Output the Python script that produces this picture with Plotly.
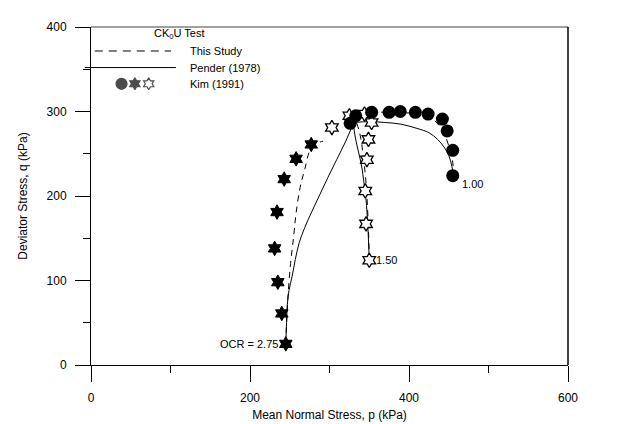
import plotly.graph_objects as go

# ---------------- data ----------------
# Kim (1991) measured points
kim100_p = [326, 333, 353, 375, 389, 408, 424, 442, 448, 455, 455]
kim100_q = [286, 295, 299, 299, 300, 299, 297, 291, 277, 254, 224]

kim275_p = [245, 240, 235, 231, 234, 243, 258, 277]
kim275_q = [25, 61, 98, 138, 181, 220, 244, 261]

kim150_p = [350, 346, 345, 347, 349, 353, 344, 325, 303]
kim150_q = [124, 167, 206, 243, 267, 287, 297, 295, 281]

# Pender (1978) predictions (solid)
pen275_p = [245, 246, 247, 249, 253, 257, 262, 269, 278, 288, 298, 309, 320, 330]
pen275_q = [25, 50, 72, 88, 105, 125, 145, 163, 182, 202, 222, 243, 264, 286]

pen150_p = [350, 348, 346, 343, 341, 338, 335, 332, 330]
pen150_q = [124, 168, 195, 218, 232, 246, 258, 272, 286]

pen100_p = [456, 454, 450, 444, 436, 425, 410, 390, 370, 350, 330]
pen100_q = [222, 235, 248, 258, 267, 275, 280, 285, 287, 288, 287]

# This study (dashed)
st275_p = [245, 246, 248, 251, 255, 258, 263, 269, 276, 284, 292]
st275_q = [25, 50, 84, 120, 153, 180, 210, 232, 255, 262, 265]

st150_p = [350, 349, 347, 345, 342, 340, 337, 333]
st150_q = [124, 160, 200, 226, 250, 265, 278, 290]

st100_p = [456, 455, 451, 446, 439, 428, 410, 385, 360, 340]
st100_q = [222, 240, 256, 270, 282, 292, 297, 299, 299, 296]

# OCR labels
ocr_labels = ["OCR = 2.75", "1.50", "1.00"]
ocr_p = [245, 350, 456]
ocr_q = [25, 124, 222]

x_ticks = [0, 200, 400, 600]
y_ticks = [0, 100, 200, 300, 400]

# ---------------- figure ----------------
FONT = "Liberation Sans, Arial, sans-serif"
fig = go.Figure()

def line(px, py, dash):
    fig.add_trace(go.Scatter(x=px, y=py, mode="lines",
                             line=dict(color="black", width=1, dash=dash),
                             line_shape="spline", showlegend=False, hoverinfo="skip"))

for px, py in [(st275_p, st275_q), (st150_p, st150_q), (st100_p, st100_q)]:
    line(px, py, "6px,5px")
for px, py in [(pen275_p, pen275_q), (pen150_p, pen150_q), (pen100_p, pen100_q)]:
    line(px, py, "solid")

fig.add_trace(go.Scatter(x=kim275_p, y=kim275_q, mode="markers",
                         marker=dict(symbol="hexagram", size=11, color="black",
                                     line=dict(color="black", width=1)),
                         showlegend=False, cliponaxis=False))
fig.add_trace(go.Scatter(x=kim150_p, y=kim150_q, mode="markers",
                         marker=dict(symbol="hexagram", size=11, color="white",
                                     line=dict(color="black", width=1.3)),
                         showlegend=False, cliponaxis=False))
fig.add_trace(go.Scatter(x=kim100_p, y=kim100_q, mode="markers",
                         marker=dict(symbol="circle", size=13, color="black",
                                     line=dict(width=0)),
                         showlegend=False, cliponaxis=False))

# legend glyphs on an overlay axis covering the plot area (paper fractions)
fig.add_trace(go.Scatter(x=[0.064, 0.092, 0.121], y=[0.832, 0.832, 0.832],
                         xaxis="x2", yaxis="y2", mode="markers",
                         marker=dict(symbol=["circle", "hexagram", "hexagram"],
                                     size=[11, 9, 9],
                                     color=["black", "black", "white"],
                                     line=dict(color="black", width=1.2)),
                         showlegend=False, cliponaxis=False, hoverinfo="skip"))

shapes = [
    dict(type="line", xref="paper", yref="paper", x0=0.008, x1=0.168, y0=0.929, y1=0.929,
         line=dict(color="black", width=1, dash="8px,6px")),
    dict(type="line", xref="paper", yref="paper", x0=-0.013, x1=0.178, y0=0.88, y1=0.88,
         line=dict(color="black", width=1)),
    dict(type="line", xref="paper", yref="paper", x0=0, x1=1, y0=1, y1=1,
         line=dict(color="#808080", width=1.5)),
    dict(type="line", xref="paper", yref="paper", x0=1, x1=1, y0=0, y1=1,
         line=dict(color="black", width=1.5)),
]

annotations = [
    dict(xref="paper", yref="paper", x=0.185, y=0.98, text="CK<sub>0</sub>U Test",
         showarrow=False, xanchor="center", yanchor="middle", font=dict(size=11)),
    dict(xref="paper", yref="paper", x=0.203, y=0.929, text="This Study",
         showarrow=False, xanchor="left", yanchor="middle", font=dict(size=11)),
    dict(xref="paper", yref="paper", x=0.203, y=0.88, text="Pender (1978)",
         showarrow=False, xanchor="left", yanchor="middle", font=dict(size=11)),
    dict(xref="paper", yref="paper", x=0.203, y=0.832, text="Kim (1991)",
         showarrow=False, xanchor="left", yanchor="middle", font=dict(size=11)),
]
for t, p, q in zip(ocr_labels, ocr_p, ocr_q):
    if t.startswith("OCR"):
        annotations.append(dict(x=p, y=q, text=t, showarrow=False, xanchor="right",
                                yanchor="middle", xshift=-6, font=dict(size=11)))
    elif t == "1.00":
        annotations.append(dict(x=p, y=q, text=t, showarrow=False, xanchor="left",
                                yanchor="middle", xshift=6, yshift=-7, font=dict(size=11)))
    else:
        annotations.append(dict(x=p, y=q, text=t, showarrow=False, xanchor="left",
                                yanchor="middle", xshift=5, font=dict(size=11)))

fig.update_layout(
    width=631, height=424,
    margin=dict(l=83, r=71, t=13, b=65),
    paper_bgcolor="white", plot_bgcolor="white",
    font=dict(family=FONT, size=12, color="black"),
    shapes=shapes, annotations=annotations,
    xaxis=dict(range=[0, 600], tickvals=x_ticks, ticks="outside", ticklen=16,
               tickcolor="black", tickwidth=1, showline=True, linecolor="black",
               linewidth=1, showgrid=False, zeroline=False,
               minor=dict(dtick=100, tick0=0, ticks="outside", ticklen=7,
                          tickcolor="black", showgrid=False),
               title=dict(text="Mean Normal Stress, p (kPa)", standoff=6,
                          font=dict(size=12)),
               ticklabelstandoff=6, tickfont=dict(size=12)),
    yaxis=dict(range=[0, 400], tickvals=y_ticks, ticks="outside", ticklen=15,
               tickcolor="black", tickwidth=1, showline=True, linecolor="black",
               linewidth=1, showgrid=False, zeroline=False,
               minor=dict(dtick=50, tick0=0, ticks="outside", ticklen=7,
                          tickcolor="black", showgrid=False),
               title=dict(text="Deviator Stress, q (kPa)", standoff=16,
                          font=dict(size=12)),
               ticklabelstandoff=6, tickfont=dict(size=12)),
    xaxis2=dict(overlaying="x", range=[0, 1], visible=False),
    yaxis2=dict(overlaying="y", range=[0, 1], visible=False),
)

fig.write_html("out.html")
